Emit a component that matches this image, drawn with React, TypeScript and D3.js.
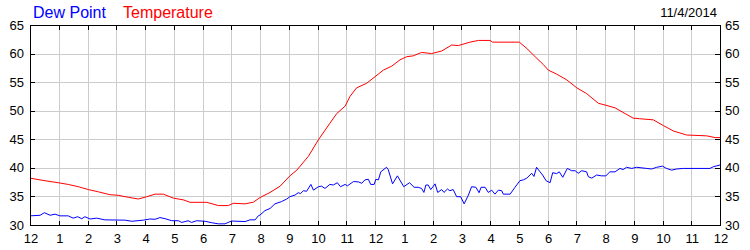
import React from "react";
import * as d3 from "d3";

const hourLabels = ["12","1","2","3","4","5","6","7","8","9","10","11","12","1","2","3","4","5","6","7","8","9","10","11","12"];
const yTicks = [30, 35, 40, 45, 50, 55, 60, 65];
const dateLabel = "11/4/2014";
const legendItems = ["Dew Point", "Temperature"];

const tempHours = [0,0.52,0.98,1.33,1.68,2.03,2.38,2.78,3.07,3.42,3.77,4.06,4.35,4.64,4.99,5.33,5.57,6.15,6.55,6.9,7.07,7.48,7.77,8.0,8.35,8.7,9.04,9.28,9.68,10.03,10.43,10.67,10.96,11.13,11.36,11.71,12.0,12.29,12.58,12.87,13.1,13.33,13.62,13.97,14.32,14.67,14.9,15.3,15.6,16.0,16.09,17.02,17.28,17.57,17.85,18.03,18.32,18.67,19.02,19.36,19.77,20.0,20.35,20.7,20.98,21.2,21.68,22.03,22.38,22.84,23.54,23.83,24];
const tempValues = [38.2,37.75,37.4,37.1,36.7,36.2,35.8,35.3,35.2,34.85,34.55,34.95,35.4,35.4,34.7,34.4,33.97,33.97,33.4,33.4,33.8,33.7,34.0,34.8,35.7,36.8,38.6,39.6,42.0,44.9,47.8,49.5,50.8,52.5,54.0,54.8,55.95,57.1,57.8,58.9,59.45,59.6,60.2,60.0,60.45,61.5,61.4,62.0,62.3,62.3,62.0,62.0,60.9,59.45,58.1,57.1,56.4,55.4,54.0,53.0,51.3,51.0,50.5,49.5,48.7,48.6,48.4,47.4,46.45,45.75,45.6,45.3,45.3];

const dewHours = [0,0.35,0.5,0.7,0.87,1.04,1.33,1.5,1.66,1.8,1.91,2.09,2.32,2.6,3.3,3.54,3.94,4.17,4.35,4.52,4.7,4.93,5.16,5.28,5.5,5.62,5.8,6.09,6.32,6.55,6.78,7.01,7.48,7.65,7.83,7.94,8.0,8.17,8.35,8.52,8.75,8.93,9.04,9.22,9.33,9.41,9.51,9.62,9.77,9.86,10.03,10.14,10.26,10.43,10.55,10.69,10.8,10.96,11.04,11.25,11.42,11.54,11.65,11.77,11.85,11.97,12.03,12.12,12.2,12.4,12.46,12.61,12.78,13.0,13.2,13.36,13.5,13.62,13.7,13.77,13.85,13.94,14.09,14.18,14.32,14.4,14.52,14.6,14.72,14.84,14.98,15.1,15.25,15.36,15.51,15.62,15.69,15.83,15.94,16.06,16.17,16.29,16.41,16.46,16.7,16.87,17.04,17.16,17.28,17.45,17.53,17.62,17.74,17.83,17.95,18.09,18.18,18.32,18.41,18.53,18.69,18.84,18.96,19.07,19.19,19.36,19.42,19.54,19.71,19.88,20.03,20.17,20.35,20.52,20.63,20.75,20.93,21.1,21.45,21.62,21.8,22.0,22.14,22.32,22.49,22.72,23.65,23.77,23.89,24];
const dewValues = [31.6,31.7,32.15,31.7,31.9,31.6,31.6,31.2,31.45,31.1,31.45,31.05,31.2,30.9,30.85,30.65,30.85,31.05,31.0,31.3,31.1,30.75,30.75,30.45,30.75,30.45,30.75,30.65,30.4,30.2,30.2,30.7,30.6,30.9,30.9,31.6,31.75,32.5,32.9,33.7,34.1,34.55,34.95,35.25,35.65,35.5,36.0,35.9,37.1,36.1,36.7,36.8,36.4,37.1,37.0,37.4,36.7,37.1,36.85,37.6,37.55,37.3,37.9,38.0,37.1,37.1,38.0,37.9,39.3,40.1,39.7,37.2,38.6,36.7,37.4,36.6,36.6,36.4,35.7,37.0,37.0,36.2,37.2,35.7,36.2,35.7,36.3,36.0,36.2,34.95,34.95,33.7,35.25,36.7,36.6,35.65,36.6,36.6,35.7,36.1,35.4,36.1,36.0,35.4,35.4,36.6,37.75,37.9,38.2,39.05,38.5,40.1,39.3,38.75,37.75,37.4,39.15,39.0,39.3,38.35,39.9,39.5,39.5,39.05,39.5,39.3,38.45,38.2,38.75,38.6,38.6,39.3,39.3,39.9,39.7,40.1,39.9,40.1,39.9,39.8,40.1,40.3,39.9,39.6,39.8,39.9,39.9,40.2,40.35,40.5];

const W = 750, H = 250;
const L = 30, R = 720, T = 25, B = 225;
const FONT = "'Liberation Sans', Arial, sans-serif";

export default function App() {
  const x = d3.scaleLinear().domain([0, 24]).range([L, R]);
  const y = d3.scaleLinear().domain([30, 65]).range([B, T]);
  const hours = d3.range(0, 25);
  const line = d3.line<[number, number]>().x(d => x(d[0])).y(d => y(d[1]));
  const tempPath = line(tempHours.map((h, i) => [h, tempValues[i]] as [number, number])) || "";
  const dewPath = line(dewHours.map((h, i) => [h, dewValues[i]] as [number, number])) || "";
  const px = (v: number) => Math.round(v) + 0.5;

  return (
    <svg width={W} height={H} style={{ position: "absolute", left: 0, top: 0, background: "#fff" }}>
      <rect x={0} y={0} width={W} height={H} fill="#fff" />
      <g stroke="#cccccc" strokeWidth={1} shapeRendering="crispEdges">
        {hours.slice(1, -1).map(h => (
          <line key={"gx" + h} x1={px(x(h))} x2={px(x(h))} y1={T} y2={B} />
        ))}
        {yTicks.slice(1, -1).map(v => (
          <line key={"gy" + v} x1={L} x2={R} y1={px(y(v))} y2={px(y(v))} />
        ))}
      </g>
      <path d={tempPath} fill="none" stroke="#ff0000" strokeWidth={1} />
      <path d={dewPath} fill="none" stroke="#0000ff" strokeWidth={1} />
      <g stroke="#000" strokeWidth={1} shapeRendering="crispEdges">
        <rect x={L + 0.5} y={T + 0.5} width={R - L} height={B - T} fill="none" />
        {hours.map(h => (
          <g key={"t" + h}>
            <line x1={px(x(h))} x2={px(x(h))} y1={T} y2={T + 5} />
            <line x1={px(x(h))} x2={px(x(h))} y1={B - 4} y2={B} />
          </g>
        ))}
        {yTicks.map(v => (
          <g key={"yt" + v}>
            <line x1={L} x2={L + 5} y1={px(y(v))} y2={px(y(v))} />
            <line x1={R - 5} x2={R} y1={px(y(v))} y2={px(y(v))} />
          </g>
        ))}
      </g>
      <g fontFamily={FONT} fontSize={13} fill="#000">
        {yTicks.map(v => (
          <text key={"yl" + v} x={L - 6} y={y(v) + 4.5} textAnchor="end">{v}</text>
        ))}
        {yTicks.map(v => (
          <text key={"yr" + v} x={R + 5} y={y(v) + 4.5} textAnchor="start">{v}</text>
        ))}
        {hours.map(h => (
          <text key={"xl" + h} x={x(h) + 1} y={243} textAnchor="middle">{hourLabels[h]}</text>
        ))}
        <text x={717} y={17} textAnchor="end">{dateLabel}</text>
      </g>
      <g fontFamily={FONT} fontSize={16}>
        <text x={33} y={18} fill="#0000ff">{legendItems[0]}</text>
        <text x={123} y={18} fill="#ff0000">{legendItems[1]}</text>
      </g>
    </svg>
  );
}
